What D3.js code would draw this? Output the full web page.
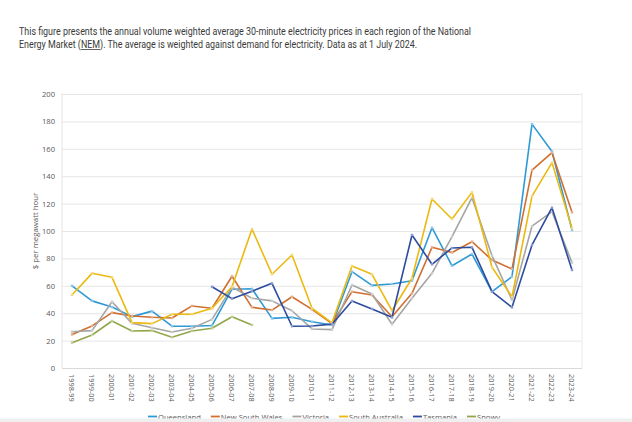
<!DOCTYPE html>
<html>
<head>
<meta charset="utf-8">
<script src="https://cdn.jsdelivr.net/npm/d3@7"></script>
<style>
  html, body { margin: 0; padding: 0; background: #ffffff; overflow: hidden; }
  svg { display: block; }
  text { font-family: "Open Sans", "Noto Sans", sans-serif; }
</style>
</head>
<body>
<div id="chart"></div>
<script>
const categories = ["1998-99","1999-00","2000-01","2001-02","2002-03","2003-04","2004-05","2005-06","2006-07","2007-08","2008-09","2009-10","2010-11","2011-12","2012-13","2013-14","2014-15","2015-16","2016-17","2017-18","2018-19","2019-20","2020-21","2021-22","2022-23","2023-24"];

const queensland     = [60, 49, 44.5, 37.5, 41.5, 30.5, 30.5, 31, 57.5, 57.8, 36.2, 37, 33.8, 31.4, 70.3, 60.3, 61.3, 63.7, 102.4, 74.6, 83.2, 55.7, 66.7, 178, 158, 100.7];
const newSouthWales  = [24.5, 30.7, 40.4, 38, 37, 36.5, 45.3, 43.6, 67, 44.3, 42.3, 52, 42.8, 32.5, 55.7, 53.3, 37.4, 54.5, 88.1, 84.3, 92.2, 78.8, 72.3, 144.5, 157.2, 113.6];
const victoria       = [26.5, 27.3, 48.4, 32.6, 29.4, 26.3, 29, 35.5, 59, 50.9, 49, 41.8, 28.5, 28, 60.6, 54, 31.9, 50.9, 69.1, 95.9, 124.3, 82, 49.6, 103.6, 114.1, 76.9];
const southAustralia = [53.3, 69.1, 66.2, 33.1, 32.4, 39.2, 39.2, 43.6, 59.3, 101.4, 68.4, 82.5, 43.6, 33, 74.5, 68.4, 41.8, 65.5, 123.4, 108.8, 128.2, 73.5, 52, 125.5, 149.9, 102];
const tasmania       = [null, null, null, null, null, null, null, 59.3, 50.6, 56, 61.8, 30.5, 30.7, 32, 48.9, 43.1, 37, 97.1, 75.7, 87.6, 88.1, 55.7, 44.3, 89.8, 117, 71.5];
const snowy          = [18.5, 24.1, 34.3, 27, 27.3, 22.4, 27, 29, 37.4, 31.4, null, null, null, null, null, null, null, null, null, null, null, null, null, null, null, null];

const seriesNames  = ["Queensland", "New South Wales", "Victoria", "South Australia", "Tasmania", "Snowy"];
const seriesValues = [queensland, newSouthWales, victoria, southAustralia, tasmania, snowy];
const seriesColors = ["#2E9AD6", "#CF6F31", "#A5A5A5", "#EBB910", "#2D4C9E", "#92A74B"];

const yTicks = [0, 20, 40, 60, 80, 100, 120, 140, 160, 180, 200];

const titleLine1 = "This figure presents the annual volume weighted average 30-minute electricity prices in each region of the National";
const titleLine2 = "Energy Market (NEM). The average is weighted against demand for electricity. Data as at 1 July 2024.";
const underlined = "NEM";
const yTitle = "$ per megawatt hour";

const W = 632, H = 422;
const svg = d3.select("#chart").append("svg").attr("width", W).attr("height", H);

// Title
const titleFont = "Roboto, 'Open Sans', sans-serif";
svg.append("text").attr("x", 19).attr("y", 34.5)
  .attr("font-size", 11).attr("fill", "#3a3a3a").style("font-family", titleFont)
  .attr("textLength", 452).attr("lengthAdjust", "spacingAndGlyphs")
  .text(titleLine1);
const t2 = svg.append("text").attr("x", 19).attr("y", 48)
  .attr("font-size", 11).attr("fill", "#3a3a3a").style("font-family", titleFont)
  .attr("textLength", 398).attr("lengthAdjust", "spacingAndGlyphs")
  .text(titleLine2);
{
  const node = t2.node();
  const idx = titleLine2.indexOf(underlined);
  const start = node.getStartPositionOfChar(idx);
  const end = node.getEndPositionOfChar(idx + underlined.length - 1);
  svg.append("line").attr("x1", start.x).attr("x2", end.x)
    .attr("y1", 49.5).attr("y2", 49.5).attr("stroke", "#3a3a3a").attr("stroke-width", 0.8);
}

// Scales
const pL = 62, pR = 582, pT = 94, pB = 368;
const x = d3.scaleBand().domain(categories).range([pL, pR]).padding(0);
const y = d3.scaleLinear().domain([0, 200]).range([pB, pT]);
const cx = d => x(d) + x.bandwidth() / 2;

// Gridlines
const gridAxis = d3.axisLeft(y).tickValues(yTicks).tickSize(-(pR - pL)).tickFormat("");
const grid = svg.append("g").attr("transform", `translate(${pL},0)`).call(gridAxis);
grid.select(".domain").remove();
grid.selectAll("line").attr("stroke", "#e6e6e6").attr("stroke-width", 1);

// Plot frame
svg.append("line").attr("x1", pL).attr("x2", pL).attr("y1", pT - 1).attr("y2", pB)
  .attr("stroke", "#e4e4e4");
svg.append("line").attr("x1", pR).attr("x2", pR).attr("y1", pT - 1).attr("y2", pB)
  .attr("stroke", "#ececec");
svg.append("line").attr("x1", pL).attr("x2", pR).attr("y1", pB + 0.5).attr("y2", pB + 0.5)
  .attr("stroke", "#d9d9d9");

// Y axis labels
const yAxis = d3.axisLeft(y).tickValues(yTicks).tickSize(0).tickPadding(0);
const ya = svg.append("g").attr("transform", `translate(55,0)`).call(yAxis);
ya.select(".domain").remove();
ya.selectAll("text").attr("font-size", 7.6).attr("fill", "#595959")
  .style("font-family", "'Open Sans', 'Noto Sans', sans-serif");

// Y title
svg.append("text")
  .attr("transform", `translate(37.5,${(pT + pB) / 2}) rotate(-90)`)
  .attr("text-anchor", "middle").attr("font-size", 7.8).attr("fill", "#595959")
  .text(yTitle);

// X axis labels (rotated, reading downward)
const xAxis = d3.axisBottom(x).tickSize(0).tickPadding(0);
const xa = svg.append("g").attr("transform", `translate(0,${pB})`).call(xAxis);
xa.select(".domain").remove();
xa.selectAll("text")
  .attr("font-size", 7.4).attr("fill", "#595959")
  .style("font-family", "'Open Sans', 'Noto Sans', sans-serif")
  .attr("text-anchor", "start")
  .attr("transform", "translate(0,6) rotate(90)")
  .attr("x", 0).attr("y", 0).attr("dy", "0.35em");

// Lines
const line = d3.line().defined(d => d.v != null).x(d => cx(d.c)).y(d => y(d.v));
seriesValues.forEach((vals, i) => {
  const pts = categories.map((c, j) => ({ c, v: vals[j] }));
  svg.append("path").datum(pts)
    .attr("fill", "none").attr("stroke", seriesColors[i]).attr("stroke-width", 1.6)
    .attr("stroke-linejoin", "round")
    .attr("d", line);
  const light = d3.interpolateRgb(seriesColors[i], "#ffffff")(0.45);
  svg.append("g").selectAll("rect").data(pts.filter(p => p.v != null)).join("rect")
    .attr("x", d => cx(d.c) - 1.2).attr("y", d => y(d.v) - 1.2)
    .attr("width", 2.4).attr("height", 2.4).attr("fill", light);
});

// Legend
const lg = svg.append("g").attr("transform", "translate(148,419.5)");
let lx = 0;
seriesNames.forEach((name, i) => {
  lg.append("line").attr("x1", lx).attr("x2", lx + 9).attr("y1", -3).attr("y2", -3)
    .attr("stroke", seriesColors[i]).attr("stroke-width", 1.8);
  const tx = lg.append("text").attr("x", lx + 10).attr("y", 0)
    .attr("font-size", 7.6).attr("fill", "#595959").text(name);
  lx += 10 + tx.node().getComputedTextLength() + 10;
});

// Bottom gray band
svg.append("rect").attr("x", 0).attr("y", 418.5).attr("width", W).attr("height", H - 418.5)
  .attr("fill", "#efefef");
</script>
</body>
</html>
